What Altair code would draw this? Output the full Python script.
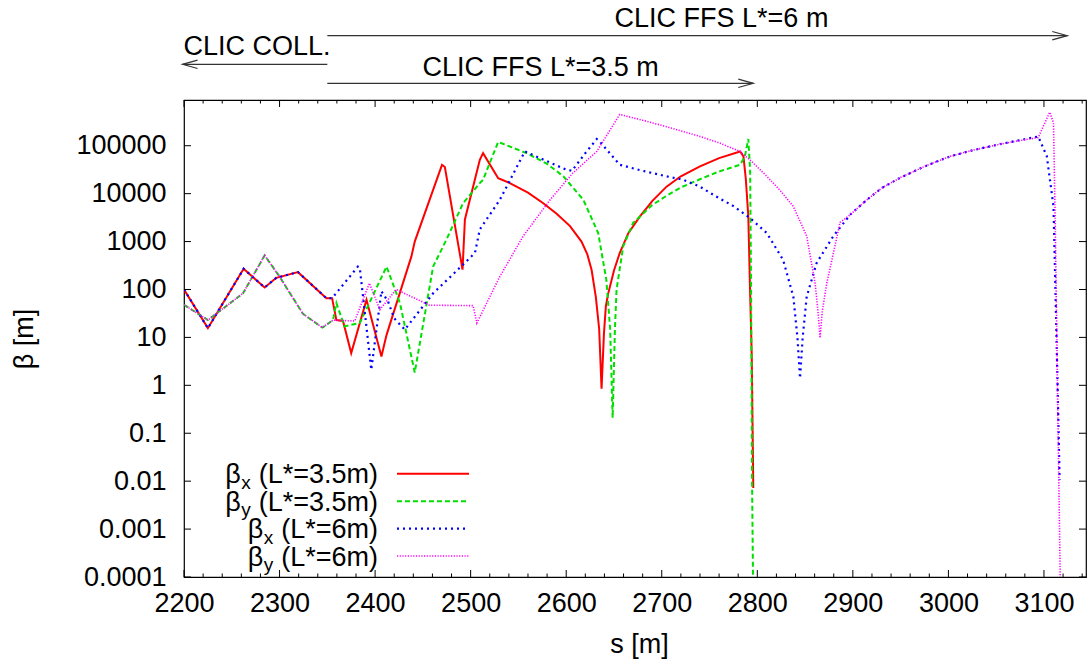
import altair as alt
import pandas as pd

# ---------------- data ----------------
bx35_s = [2200, 2225, 2262.4, 2284.4, 2296.6, 2319.3, 2349, 2355, 2359.5, 2366.4, 2375, 2391,
          2406.6, 2412, 2438, 2441.5, 2470, 2473, 2491.5, 2494, 2509.6, 2513, 2528.8, 2541,
          2560, 2576, 2590, 2604, 2616, 2622, 2626.6, 2631, 2634.5, 2637, 2639.5, 2641.5,
          2644, 2650, 2656, 2665, 2677, 2690, 2705, 2720, 2740, 2760, 2782, 2785.5, 2788,
          2790.6, 2792.4, 2794.2, 2795.8]
bx35_b = [100, 15.6, 270, 110, 175, 230, 66, 66, 23, 22, 4.7, 61,
          4.0, 11.3, 490, 1000, 40000, 36000, 260, 2900, 51000, 70000, 21000, 16600,
          10500, 6300, 3800, 2100, 1000, 550, 255, 70, 15, 0.85, 12, 45,
          83, 250, 575, 1500, 3300, 7000, 14000, 23000, 37000, 55000, 76000, 60000, 20000,
          3300, 100, 4, 0.0072]

by35_s = [2200, 2225, 2261.7, 2284.4, 2300, 2324.5, 2344.8, 2356, 2359.5, 2368, 2384, 2412,
          2426, 2441.5, 2460.7, 2474.7, 2492, 2509.6, 2513, 2528.8, 2558.5, 2580, 2597, 2618,
          2633.5, 2642, 2646, 2648.6, 2651, 2652.7, 2659.7, 2670, 2677, 2690, 2705, 2720,
          2740, 2760, 2782, 2787, 2790.6, 2792.5, 2793.5, 2794.5, 2795.5]
by35_b = [48, 23, 83, 515, 186, 31, 16, 23, 52, 17, 20, 300,
          52, 1.85, 300, 1100, 6300, 16600, 19500, 120000, 70000, 42000, 23000, 7400,
          1500, 160, 15, 0.21, 15, 100, 800, 2450, 3300, 5800, 9000, 13500,
          20000, 29000, 40000, 60000, 138000, 30000, 100, 0.01, 0.0001]

bx6_s = [2200, 2225, 2262.4, 2284.4, 2296.6, 2319.3, 2349, 2355, 2382, 2384, 2396, 2406.6,
         2413.6, 2420, 2431, 2460.7, 2492, 2504.5, 2509.6, 2530.5, 2556.7, 2600, 2606,
         2620, 2632, 2635, 2656, 2680, 2705, 2722.5, 2740, 2757, 2775, 2792.4, 2810, 2827,
         2837.7, 2842, 2844.7, 2847.5, 2851.7, 2862, 2879.6, 2897, 2914.5, 2930, 2949.5,
         2975, 3001.8, 3025, 3054, 3075, 3094, 3103, 3110, 3113.6, 3116.4]
bx6_b = [100, 15.6, 270, 110, 175, 230, 66, 66, 300, 280, 2.1, 92,
         56, 25, 14.5, 83, 330, 580, 1800, 7400, 76000, 31600, 30000,
         70000, 138000, 123000, 40000, 30000, 23000, 19500, 14000, 8700, 5500, 3100, 1500, 415,
         71, 10, 1.4, 10, 71, 355, 1300, 3600, 7400, 13000, 21500,
         37000, 60000, 80000, 108000, 131000, 156000, 60000, 5400, 4, 0.0107]

by6_s = [2200, 2225, 2261.7, 2284.4, 2300, 2324.5, 2344.8, 2356, 2378.7, 2394, 2405, 2422,
         2457, 2502.6, 2506.5, 2530.5, 2555, 2583, 2607, 2632, 2656, 2680, 2705, 2740, 2760,
         2782, 2795, 2810, 2825, 2837.7, 2851.7, 2860.5, 2863.5, 2865.7, 2868, 2872.7, 2886.6,
         2897, 2914.5, 2930, 2949.5, 2975, 3001.8, 3025, 3054, 3075, 3094, 3106, 3110, 3111.8,
         3114.2, 3117]
by6_b = [48, 23, 83, 515, 186, 31, 16, 23, 22, 135, 38, 100,
         47, 46, 20, 186, 1300, 7400, 27000, 76000, 450000, 340000, 250000, 156000, 115000,
         76000, 45000, 23000, 11000, 5400, 1300, 135, 35, 9.8, 35, 135, 2500,
         3600, 7400, 13000, 21500, 37000, 60000, 80000, 108000, 128000, 148000, 500000, 300000,
         2500, 0.8, 0.0001]

x_major = [2200, 2300, 2400, 2500, 2600, 2700, 2800, 2900, 3000, 3100]
x_minor = [v for v in range(2220, 3144, 20) if v % 100 != 0]
y_major = [1e-4, 1e-3, 1e-2, 1e-1, 1, 10, 100, 1000, 10000, 100000]

ann_text = ["CLIC FFS L*=6 m", "CLIC COLL.", "CLIC FFS L*=3.5 m"]
ann_s = [2762.5, 2199.5, 2573.3]
arrow_start = [2350, 2350, 2350]
arrow_end = [3124.4, 2198.5, 2795.8]

leg_sub = ["x", "y", "x", "y"]
leg_par = ["(L*=3.5m)", "(L*=3.5m)", "(L*=6m)", "(L*=6m)"]

# ---------------- layout / style ----------------
W, H = 902, 477
FONT = "Liberation Sans"
FS = 27
xscale = alt.Scale(domain=[2200, 3144], nice=False, zero=False)
yscale = alt.Scale(type="log", domain=[1e-4, 9e5], nice=False)

colors = ["#ff0000", "#00e000", "#0000ff", "#ff00ff"]
dashes = [None, [5, 3], [2, 4], [1.2, 1.5]]
widths = [2, 2, 2.2, 1.6]

xaxis = alt.Axis(values=x_major, format="d", title="s [m]", labelFlush=False, labelOverlap=False,
                 ticks=False, domain=False, grid=False, labelPadding=13,
                 labelFontSize=FS, labelFont=FONT, labelColor="black",
                 titleFont=FONT, titleFontSize=FS, titleFontWeight="normal", titleColor="black",
                 titleX=455, titleY=67, titleBaseline="middle", titleAlign="center")
yaxis = alt.Axis(values=y_major, format="~g", title="β [m]", labelFlush=False, labelOverlap=False,
                 ticks=False, domain=False, grid=False, labelPadding=18,
                 labelFontSize=FS, labelFont=FONT, labelColor="black",
                 titleFont=FONT, titleFontSize=FS, titleFontWeight="normal", titleColor="black",
                 titleAngle=270, titleX=-160, titleY=238.5, titleBaseline="middle", titleAlign="center")


def X(field="s"):
    return alt.X(f"{field}:Q", scale=xscale, axis=xaxis)


def Y(field="b"):
    return alt.Y(f"{field}:Q", scale=yscale, axis=yaxis)


layers = []

series = [(bx35_s, bx35_b), (by35_s, by35_b), (bx6_s, bx6_b), (by6_s, by6_b)]
for i, (s, b) in enumerate(series):
    df = pd.DataFrame({"s": s, "b": b})
    kw = dict(color=colors[i], strokeWidth=widths[i], clip=True)
    if dashes[i] is not None:
        kw["strokeDash"] = dashes[i]
    layers.append(
        alt.Chart(df).mark_line(**kw).encode(x=X(), y=Y(), order=alt.Order("s:Q"))
    )

# inward ticks (bottom / top / left / right)
dfxM = pd.DataFrame({"s": x_major})
dfxm = pd.DataFrame({"s": x_minor})
dfy = pd.DataFrame({"b": y_major})
for df, ln in [(dfxM, 7), (dfxm, 3.5)]:
    layers.append(alt.Chart(df).mark_rule(color="black", strokeWidth=1).encode(
        x=X(), y=alt.value(H), y2=alt.value(H - ln)))
    layers.append(alt.Chart(df).mark_rule(color="black", strokeWidth=1).encode(
        x=X(), y=alt.value(0), y2=alt.value(ln)))
layers.append(alt.Chart(dfy).mark_rule(color="black", strokeWidth=1).encode(
    y=Y(), x=alt.value(0), x2=alt.value(7)))
layers.append(alt.Chart(dfy).mark_rule(color="black", strokeWidth=1).encode(
    y=Y(), x=alt.value(W), x2=alt.value(W - 7)))

# annotations above the plot
arrow_y = [-64.3, -35.7, -16.7]
text_y = [-73, -45, -24]
text_align = ["center", "left", "center"]
ACOL = "#333333"
for i in range(3):
    dfa = pd.DataFrame({"s": [arrow_start[i]], "e": [arrow_end[i]]})
    layers.append(alt.Chart(dfa).mark_rule(color=ACOL, strokeWidth=1.2, clip=False).encode(
        x=X(), x2="e:Q", y=alt.value(arrow_y[i])))
    right = arrow_end[i] > arrow_start[i]
    shape = "M -1 -0.28 L 0 0 L -1 0.28" if right else "M 1 -0.28 L 0 0 L 1 0.28"
    dft = pd.DataFrame({"s": [arrow_end[i]]})
    layers.append(alt.Chart(dft).mark_point(shape=shape, size=900, filled=False, color=ACOL,
                                            strokeWidth=1.2, opacity=1, clip=False).encode(
        x=X(), y=alt.value(arrow_y[i])))
    dftx = pd.DataFrame({"s": [ann_s[i]], "t": [ann_text[i]]})
    layers.append(alt.Chart(dftx).mark_text(font=FONT, fontSize=FS, color="black",
                                            align=text_align[i], baseline="alphabetic").encode(
        x=X(), y=alt.value(text_y[i]), text="t:N"))

# manual legend (subscripts)
AW = {"(": 0.333, ")": 0.333, "L": 0.556, "*": 0.389, "=": 0.584, "3": 0.556, ".": 0.278,
      "5": 0.556, "m": 0.833, "6": 0.556}
TX = 194          # right edge of legend text, plot coords
LX1, LX2 = 213, 285
for i in range(4):
    yc = 373.8 + 27.4 * i
    wpar = sum(AW[c] for c in leg_par[i]) * FS
    bright = TX - wpar - 18
    one = pd.DataFrame({"t": [leg_par[i]]})
    layers.append(alt.Chart(one).mark_text(font=FONT, fontSize=FS, color="black", align="right",
                                           baseline="alphabetic").encode(
        x=alt.value(TX), y=alt.value(yc + 9.5), text="t:N"))
    layers.append(alt.Chart(pd.DataFrame({"t": ["β"]})).mark_text(
        font=FONT, fontSize=FS, color="black", align="right", baseline="alphabetic").encode(
        x=alt.value(bright), y=alt.value(yc + 9.5), text="t:N"))
    layers.append(alt.Chart(pd.DataFrame({"t": [leg_sub[i]]})).mark_text(
        font=FONT, fontSize=19, color="black", align="left", baseline="alphabetic").encode(
        x=alt.value(bright + 0.5), y=alt.value(yc + 15), text="t:N"))
    kw = dict(color=colors[i], strokeWidth=widths[i])
    if dashes[i] is not None:
        kw["strokeDash"] = dashes[i]
    layers.append(alt.Chart(pd.DataFrame({"k": [0]})).mark_rule(**kw).encode(
        x=alt.value(LX1), x2=alt.value(LX2), y=alt.value(yc)))

chart = alt.layer(*layers).properties(
    width=W, height=H,
    autosize=alt.AutoSizeParams(type="none"),
    padding={"left": 184, "top": 100, "right": 1, "bottom": 90},
    background="white",
).configure_view(stroke="black", strokeWidth=1.2).configure_axis(grid=False)

chart.save("out.html", embed_options={"renderer": "svg", "actions": False})
